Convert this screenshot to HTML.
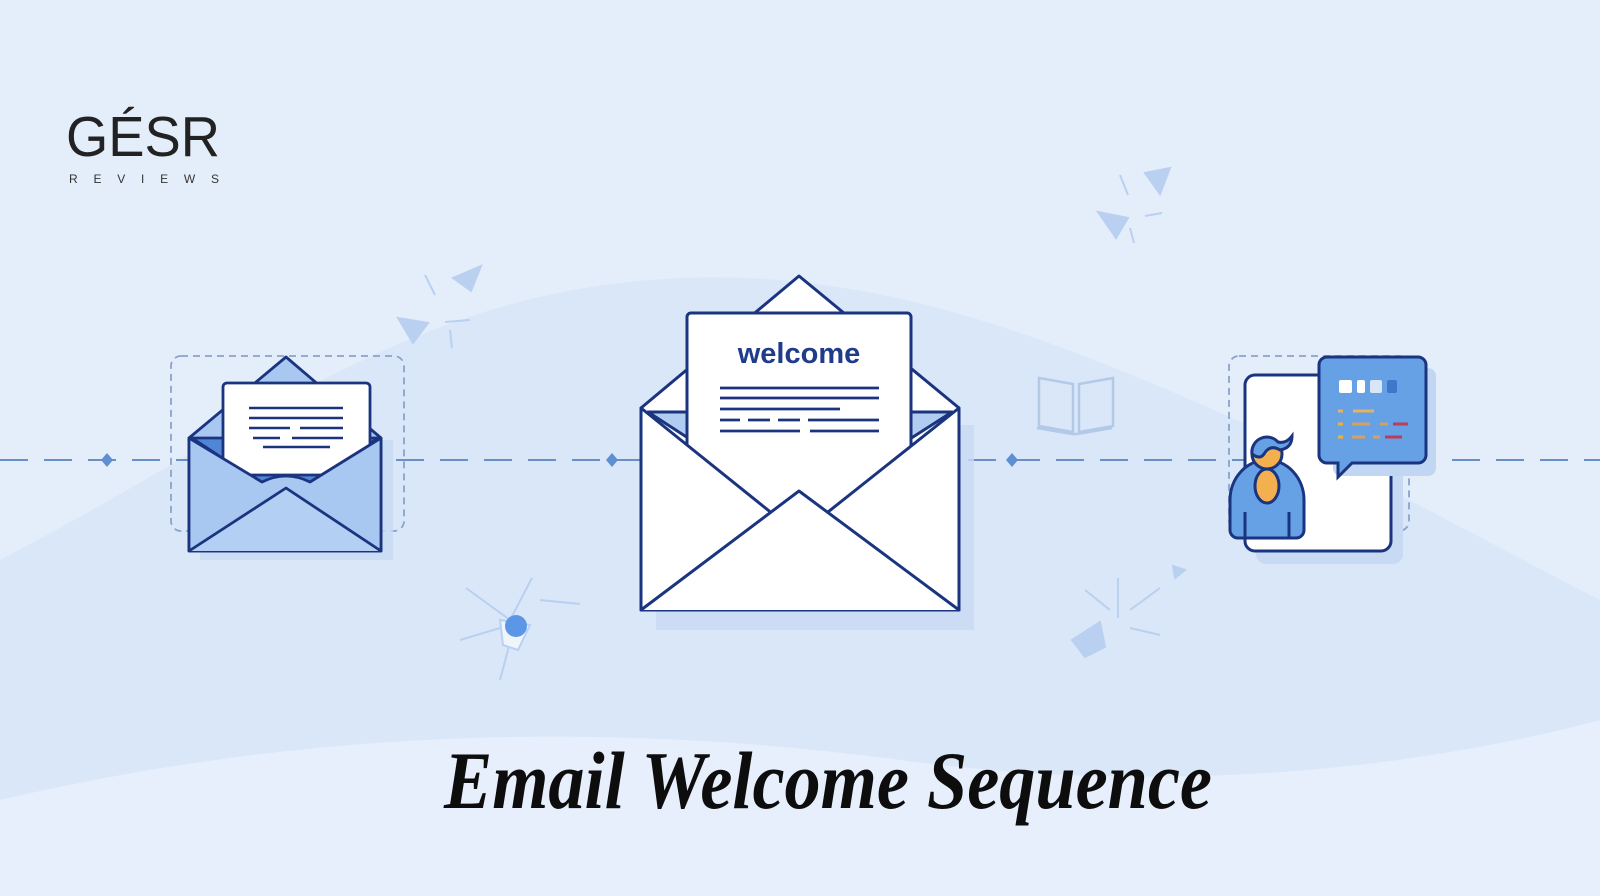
<!DOCTYPE html>
<html><head><meta charset="utf-8"><style>
html,body{margin:0;padding:0;width:1600px;height:896px;overflow:hidden;background:#e4eefb}
</style></head><body>
<svg width="1600" height="896" viewBox="0 0 1600 896" xmlns="http://www.w3.org/2000/svg">
<rect width="1600" height="896" fill="#e4eefb"/>
<path d="M0 560 C250 430 400 300 650 280 C900 260 1100 360 1350 470 C1450 520 1540 570 1600 600 L1600 896 L0 896 Z" fill="#d9e7f9"/>
<path d="M0 800 C300 730 600 720 900 760 C1200 800 1450 760 1600 720 L1600 896 L0 896 Z" fill="#e6effb"/>
<!-- logo -->
<text x="66" y="156" font-family="Liberation Sans, sans-serif" font-size="57" fill="#222" textLength="154" lengthAdjust="spacingAndGlyphs">GÉSR</text>
<text x="69" y="183" font-family="Liberation Sans, sans-serif" font-size="12" fill="#333" textLength="150" lengthAdjust="spacing">REVIEWS</text>
<!-- dashed connector -->
<line x1="0" y1="460" x2="1600" y2="460" stroke="#6a8fc4" stroke-width="2" stroke-dasharray="28 16"/>
<path d="M101 460 l6 -7 l6 7 l-6 7z" fill="#5f8ed3"/>
<path d="M606 460 l6 -7 l6 7 l-6 7z" fill="#5f8ed3"/>
<path d="M1006 460 l6 -7 l6 7 l-6 7z" fill="#5f8ed3"/>
<!-- decorations -->
<g fill="#b9d0f0" stroke="#b9d0f0" stroke-width="2">
<path d="M453 278 l28 -12 l-10 25z"/><path d="M398 318 l30 5 l-15 20z"/>
<line x1="425" y1="275" x2="435" y2="295"/><line x1="445" y1="322" x2="470" y2="320"/><line x1="450" y1="330" x2="452" y2="348"/>
<path d="M1098 212 l30 6 l-12 20z"/><path d="M1145 173 l25 -5 l-10 26z"/>
<line x1="1120" y1="175" x2="1128" y2="195"/><line x1="1145" y1="216" x2="1162" y2="213"/><line x1="1130" y1="228" x2="1134" y2="243"/>
<path d="M1072 640 l28 -18 l5 25 l-20 10z"/><line x1="1118" y1="578" x2="1118" y2="618"/><line x1="1085" y1="590" x2="1110" y2="610"/><line x1="1130" y1="610" x2="1160" y2="588"/><line x1="1130" y1="628" x2="1160" y2="635"/>
<path d="M1173 566 l12 4 l-10 8z"/>
<line x1="466" y1="588" x2="510" y2="620"/><line x1="532" y1="578" x2="510" y2="620"/><line x1="460" y1="640" x2="510" y2="625"/><line x1="540" y1="600" x2="580" y2="604"/><line x1="512" y1="635" x2="500" y2="680"/>
<path d="M500 620 l30 5 l-12 25 l-15 -5z" fill="#f0f5fc"/>
</g>
<circle cx="516" cy="626" r="11" fill="#5b97e6"/>
<!-- book -->
<g stroke="#b3c9e8" stroke-width="2.5" fill="none"><path d="M1039 378 l34 6 v48 l-34 -6z"/><path d="M1113 378 l-34 6 v48 l34 -6z"/><path d="M1037 428 l35 6 h5 l35 -6"/></g>
<!-- left envelope -->
<rect x="171" y="356" width="233" height="175" rx="10" fill="none" stroke="#8aa3c8" stroke-width="1.8" stroke-dasharray="7 5"/>
<rect x="200" y="440" width="193" height="120" fill="#c7daf4" opacity=".8"/>
<g stroke="#1b347f" stroke-width="2.8" stroke-linejoin="round">
<path d="M189 438 L286 357 L381 438 V551 H189Z" fill="#a9c8f1"/>
<path d="M192 438 H378 L286 500Z" fill="#4f86d6"/>
<rect x="223" y="383" width="147" height="92" rx="4" fill="#fff"/>
<path d="M189 438 L262 482 Q286 470 310 482 L381 438 V551 H189Z" fill="#a9c8f1"/>
<path d="M189 551 L286 488 L381 551" fill="#b3cff3"/>
</g>
<g stroke="#1b347f" stroke-width="2.5"><line x1="249" y1="408" x2="343" y2="408"/><line x1="249" y1="418" x2="343" y2="418"/><line x1="249" y1="428" x2="290" y2="428"/><line x1="300" y1="428" x2="343" y2="428"/><line x1="253" y1="438" x2="280" y2="438"/><line x1="292" y1="438" x2="343" y2="438"/><line x1="263" y1="447" x2="330" y2="447"/></g>
<!-- center envelope -->
<rect x="656" y="425" width="318" height="205" fill="#c8daf3" opacity=".8"/>
<g stroke="#1b347f" stroke-width="3" stroke-linejoin="round">
<path d="M641 408 L799 276 L959 408 V610 H641Z" fill="#fff"/>
<path d="M648 412 H952 L799 510Z" fill="#b0ccf1"/>
<rect x="687" y="313" width="224" height="200" rx="4" fill="#fff"/>
<path d="M641 408 L799 535 L959 408 V610 H641Z" fill="#fff"/>
<path d="M641 610 L799 491 L959 610" fill="#fff"/>
</g>
<text x="799" y="363" text-anchor="middle" font-family="Liberation Sans, sans-serif" font-weight="bold" font-size="29" fill="#1f3c8c">welcome</text>
<g stroke="#1b347f" stroke-width="2.8"><line x1="720" y1="388" x2="879" y2="388"/><line x1="720" y1="398" x2="879" y2="398"/><line x1="720" y1="409" x2="840" y2="409"/><line x1="720" y1="420" x2="740" y2="420"/><line x1="748" y1="420" x2="770" y2="420"/><line x1="778" y1="420" x2="800" y2="420"/><line x1="808" y1="420" x2="879" y2="420"/><line x1="720" y1="431" x2="800" y2="431"/><line x1="810" y1="431" x2="879" y2="431"/></g>
<!-- right card -->
<rect x="1229" y="356" width="180" height="175" rx="10" fill="none" stroke="#8aa3c8" stroke-width="1.8" stroke-dasharray="7 5"/>
<rect x="1256" y="386" width="147" height="178" rx="10" fill="#c8daf3"/>
<rect x="1245" y="375" width="146" height="176" rx="10" fill="#fff" stroke="#1b347f" stroke-width="3"/>
<rect x="1333" y="368" width="103" height="108" rx="8" fill="#c1d6f2"/>
<path d="M1327 357 h91 a8 8 0 0 1 8 8 v90 a8 8 0 0 1 -8 8 h-66 l-14 14 v-14 h-11 a8 8 0 0 1 -8 -8 v-90 a8 8 0 0 1 8 -8z" fill="#65a1e4" stroke="#1b347f" stroke-width="3"/>
<g fill="#fff"><rect x="1339" y="380" width="13" height="13" rx="2"/><rect x="1357" y="380" width="8" height="13" rx="2"/><rect x="1370" y="380" width="12" height="13" rx="2" fill="#d8e6f8"/><rect x="1387" y="380" width="10" height="13" rx="2" fill="#3f78c8"/></g>
<g stroke-width="3"><line x1="1338" y1="411" x2="1343" y2="411" stroke="#e8b060"/><line x1="1353" y1="411" x2="1374" y2="411" stroke="#e8b060"/><line x1="1338" y1="424" x2="1343" y2="424" stroke="#f0b040"/><line x1="1352" y1="424" x2="1370" y2="424" stroke="#d8a060"/><line x1="1380" y1="424" x2="1388" y2="424" stroke="#d8a060"/><line x1="1393" y1="424" x2="1408" y2="424" stroke="#c03a5a"/><line x1="1338" y1="437" x2="1343" y2="437" stroke="#f0b040"/><line x1="1352" y1="437" x2="1365" y2="437" stroke="#d8a060"/><line x1="1373" y1="437" x2="1380" y2="437" stroke="#d8a060"/><line x1="1385" y1="437" x2="1402" y2="437" stroke="#c03a5a"/></g>
<g stroke="#1b347f" stroke-width="3">
<path d="M1230 530 v-30 a37 40 0 0 1 74 0 v30 a8 8 0 0 1 -8 8 h-58 a8 8 0 0 1 -8 -8z" fill="#65a1e4"/>
<ellipse cx="1267" cy="486" rx="12" ry="17" fill="#f4b04e"/>
<circle cx="1267" cy="454" r="15" fill="#f4b04e"/>
<path d="M1252 454 a15 15 0 0 1 26 -12 q8 2 14 -6 q0 12 -12 14 q-10 -6 -16 4 q-4 6 -12 0z" fill="#65a1e4"/>
<line x1="1245" y1="512" x2="1245" y2="537"/><line x1="1289" y1="512" x2="1289" y2="537"/>
</g>
<!-- title -->
<text x="444" y="808" font-family="Liberation Serif, serif" font-style="italic" font-weight="bold" font-size="82" fill="#0d0d0d" textLength="768" lengthAdjust="spacingAndGlyphs">Email Welcome Sequence</text>
</svg>
</body></html>
